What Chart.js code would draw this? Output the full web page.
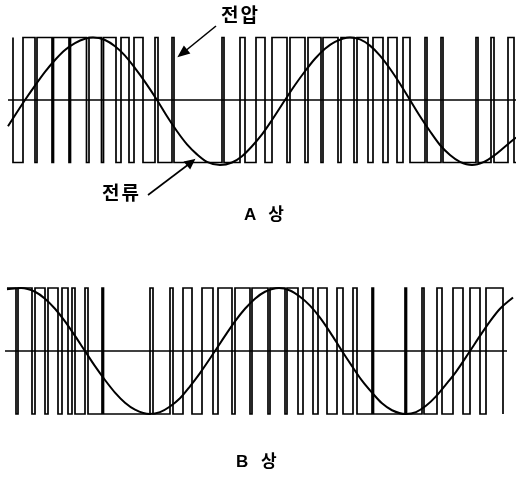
<!DOCTYPE html>
<html lang="ko">
<head>
<meta charset="UTF-8">
<title>A상 / B상 전압·전류 파형</title>
<script src="https://cdn.jsdelivr.net/npm/chart.js@4"></script>
<style>
  body { margin: 0; background: #fff; }
  #wrap { position: relative; width: 516px; height: 479px; overflow: hidden; background: #fff; }
  .plot { position: absolute; left: 0; }
  .lbl { position: absolute; font-family: "Liberation Sans", "Noto Sans CJK KR", sans-serif; font-weight: 700; color: #000; white-space: nowrap; line-height: 1; }
  #arrows { position: absolute; left: 0; top: 0; }
</style>
</head>
<body>
<div id="wrap">
  <canvas id="phaseA" class="plot" width="516" height="138" style="top:31px"></canvas>
  <canvas id="phaseB" class="plot" width="516" height="138" style="top:282px"></canvas>

  <svg id="arrows" width="516" height="479">
    <g stroke="#000" stroke-width="1.6" fill="#000">
      <line x1="216" y1="26" x2="184" y2="52" />
      <polygon points="179,56 184,47 189,53" />
      <line x1="148" y1="195" x2="189" y2="164" />
      <polygon points="194,160 185,162 190,168" />
    </g>
  </svg>

  <div class="lbl" style="left:221px;top:6px;font-size:19px;letter-spacing:2px">전압</div>
  <div class="lbl" style="left:102px;top:184px;font-size:19px;letter-spacing:2px">전류</div>
  <div class="lbl" style="left:244px;top:206px;font-size:17px;word-spacing:8px">A 상</div>
  <div class="lbl" style="left:236px;top:453px;font-size:17px;word-spacing:8px">B 상</div>
</div>

<script>
  // A상: 전압 펄스의 스위칭 시점 (처음 레벨 +1에서 시작해 매 시점마다 반전)
  const aVoltStart = 13;
  const aVoltEnd = 516;
  const aVoltEdges = [13, 23, 35, 37, 52, 53.5, 69, 70.5, 86.5, 89, 101.5, 103.5, 116, 121, 129, 134,
    143, 155, 158, 172, 174, 222, 224, 240, 245, 256, 265, 272, 287, 290, 305, 308, 321, 323,
    338, 341, 354, 357, 368, 373, 383, 388, 397, 403, 410, 425, 427, 441, 443, 476, 478, 491,
    494, 508, 514];

  // A상 전류
  const aCurrentX = [8, 16, 25, 35, 45, 55, 65, 75, 85, 93, 105, 115, 125, 135, 145, 157, 167, 177,
    187, 197, 207, 220, 232, 242, 252, 262, 272, 285, 295, 305, 315, 325, 335, 350, 360, 370,
    380, 390, 400, 410, 420, 430, 440, 450, 460, 472, 484, 494, 504, 516];
  const aCurrentY = [-0.42, -0.22, 0, 0.23, 0.45, 0.64, 0.8, 0.91, 0.98, 1.0, 0.96, 0.86, 0.71, 0.51,
    0.29, 0, -0.26, -0.5, -0.71, -0.87, -0.99, -1.04, -1.0, -0.9, -0.74, -0.55, -0.32, 0, 0.24,
    0.46, 0.66, 0.82, 0.93, 1.0, 0.97, 0.87, 0.71, 0.5, 0.26, 0, -0.26, -0.5, -0.72, -0.88,
    -0.99, -1.04, -0.99, -0.89, -0.76, -0.6];

  // B상
  const bVoltStart = 7;
  const bVoltEnd = 503;
  const bVoltEdges = [16, 18, 32, 35, 45, 48, 58, 62, 68, 72, 75, 85, 88, 102, 103.5, 150, 153, 170,
    173, 183, 192, 202, 213, 218, 232, 235, 250, 252, 268, 270, 285, 287, 298, 303, 313, 318,
    327, 337, 343, 353, 357, 372, 373.5, 405, 406.5, 422, 424, 437, 442, 453, 463, 470, 480,
    486, 503];

  const bCurrentX = [7, 21, 35, 45, 55, 65, 75, 85, 95, 105, 115, 125, 135, 150, 160, 170, 180, 190,
    200, 215, 225, 235, 245, 255, 265, 279, 290, 300, 310, 320, 330, 342, 352, 362, 372, 382,
    392, 406, 416, 426, 436, 446, 456, 470, 480, 490, 500, 513];
  const bCurrentY = [0.98, 1.0, 0.94, 0.83, 0.67, 0.47, 0.24, 0, -0.24, -0.46, -0.66, -0.82, -0.93,
    -1.0, -0.97, -0.88, -0.75, -0.56, -0.35, 0, 0.24, 0.47, 0.67, 0.83, 0.94, 1.0, 0.96, 0.86,
    0.72, 0.53, 0.3, 0, -0.24, -0.47, -0.66, -0.83, -0.94, -1.0, -0.97, -0.87, -0.72, -0.53,
    -0.33, 0, 0.24, 0.47, 0.67, 0.85];

  // 기준선(0) 범위
  const aAxisX = [8, 516];
  const bAxisX = [5, 507];

  function pulseTrain(start, end, edges) {
    let level = 1;
    const pts = [{ x: start, y: level }];
    edges.forEach(e => {
      pts.push({ x: e, y: level });
      level = -level;
      pts.push({ x: e, y: level });
    });
    pts.push({ x: end, y: level });
    return pts;
  }

  function zip(xs, ys) {
    return xs.map((x, i) => ({ x: x, y: ys[i] }));
  }

  function drawPhase(id, volt, currX, currY, axisX, yLim) {
    const ctx = document.getElementById(id).getContext('2d');
    return new Chart(ctx, {
      type: 'line',
      data: {
        datasets: [
          {
            label: '기준',
            data: axisX.map(x => ({ x: x, y: 0 })),
            borderColor: '#000',
            borderWidth: 1.6
          },
          {
            label: '전압',
            data: volt,
            borderColor: '#000',
            borderWidth: 1.7
          },
          {
            label: '전류',
            data: zip(currX, currY),
            borderColor: '#000',
            borderWidth: 2,
            cubicInterpolationMode: 'monotone'
          }
        ]
      },
      options: {
        responsive: false,
        animation: false,
        layout: { padding: 0 },
        elements: { point: { radius: 0 }, line: { tension: 0 } },
        plugins: { legend: { display: false }, tooltip: { enabled: false } },
        scales: {
          x: { type: 'linear', display: false, min: 0, max: 516 },
          y: { display: false, min: -yLim, max: yLim }
        }
      }
    });
  }

  drawPhase('phaseA', pulseTrain(aVoltStart, aVoltEnd, aVoltEdges), aCurrentX, aCurrentY, aAxisX, 1.104);
  drawPhase('phaseB', pulseTrain(bVoltStart, bVoltEnd, bVoltEdges), bCurrentX, bCurrentY, bAxisX, 1.095);
</script>
</body>
</html>
